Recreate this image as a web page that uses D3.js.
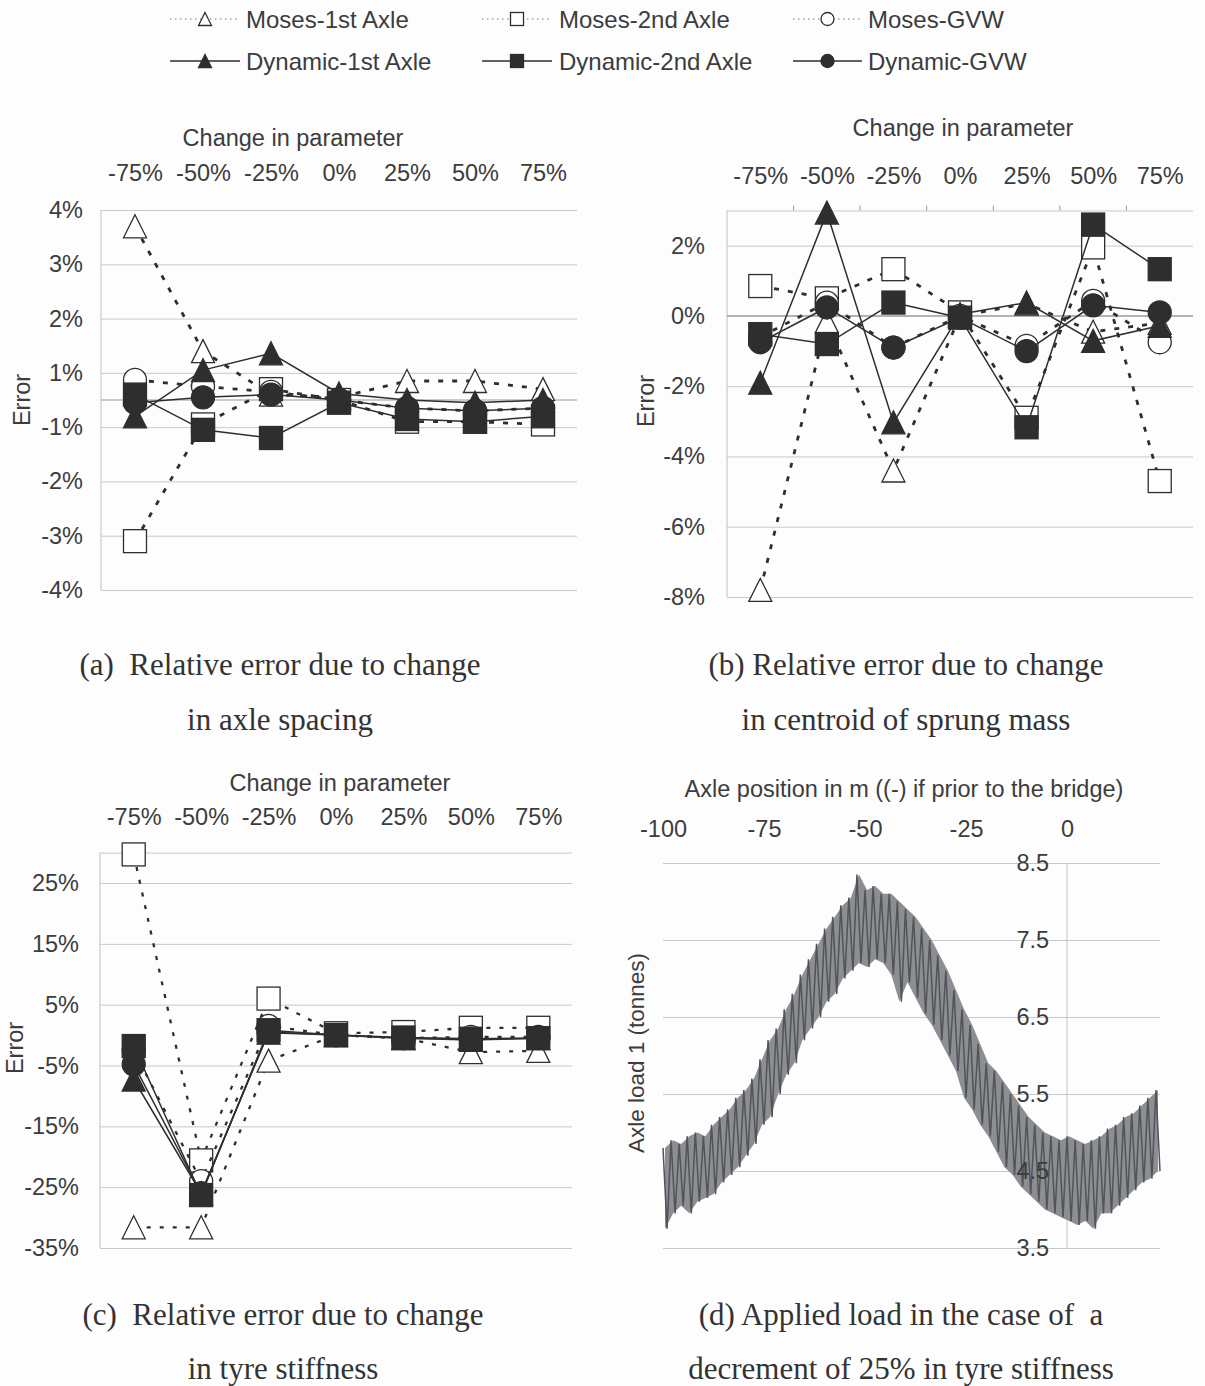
<!DOCTYPE html>
<html><head><meta charset="utf-8">
<script src="https://cdn.jsdelivr.net/npm/d3@7"></script>
<style>body{margin:0;background:#fdfdfd} svg{display:block}</style>
</head><body>
<svg id="c" width="1205" height="1386"></svg>
<script>
// ---------- DATA ----------
const categories = ["-75%","-50%","-25%","0%","25%","50%","75%"];
const seriesNames = ["Moses-1st Axle","Moses-2nd Axle","Moses-GVW","Dynamic-1st Axle","Dynamic-2nd Axle","Dynamic-GVW"];
const seriesShapes = ["triangle","square","circle","triangle","square","circle"];
const seriesFilled = [false,false,false,true,true,true];

// (a) axle spacing, error in %
const aMoses1 = [3.2, 0.9, 0.1, 0.05, 0.35, 0.35, 0.2];
const aMoses2 = [-2.6, -0.45, 0.2, 0.0, -0.4, -0.4, -0.45];
const aMosesGVW = [0.37, 0.25, 0.15, 0.0, -0.15, -0.2, -0.15];
const aDyn1 = [-0.3, 0.55, 0.86, 0.12, 0.0, -0.05, 0.0];
const aDyn2 = [0.1, -0.55, -0.7, -0.05, -0.35, -0.4, -0.3];
const aDynGVW = [-0.05, 0.05, 0.1, 0.0, -0.15, -0.2, -0.15];
const aTickValues = [3.5, 2.5, 1.5, 0.5, -0.5, -1.5, -2.5, -3.5];
const aTickLabels = ["4%","3%","2%","1%","-1%","-2%","-3%","-4%"];

// (b) centroid of sprung mass
const bMoses1 = [-7.8, -0.15, -4.4, 0.0, 0.35, -0.45, -0.2];
const bMoses2 = [0.85, 0.5, 1.33, 0.1, -2.9, 1.95, -4.7];
const bMosesGVW = [-0.6, 0.38, -0.9, 0.0, -0.85, 0.43, -0.75];
const bDyn1 = [-1.9, 2.94, -3.03, 0.05, 0.38, -0.71, -0.28];
const bDyn2 = [-0.52, -0.8, 0.38, -0.05, -3.17, 2.6, 1.33];
const bDynGVW = [-0.75, 0.24, -0.9, -0.05, -1.0, 0.3, 0.1];
const bTickValues = [2, 0, -2, -4, -6, -8];
const bTickLabels = ["2%","0%","-2%","-4%","-6%","-8%"];

// (c) tyre stiffness
const cMoses1 = [-31.6, -31.6, -4.2, 0.0, -0.5, -2.8, -2.6];
const cMoses2 = [29.7, -20.6, 6.0, 0.3, 0.5, 1.2, 1.2];
const cMosesGVW = [-2.5, -24, 1.5, 0.0, -0.5, -0.3, -0.3];
const cDyn1 = [-7.3, -26, 0.4, 0.0, -0.5, -0.8, -0.5];
const cDyn2 = [-1.8, -26.3, 0.8, 0.0, -0.4, -0.6, -0.5];
const cDynGVW = [-4.8, -26, 0.5, 0.0, -0.5, -0.6, -0.5];
const cTickValues = [25, 15, 5, -5, -15, -25, -35];
const cTickLabels = ["25%","15%","5%","-5%","-15%","-25%","-35%"];

// (d) axle load 1 (tonnes) vs axle position (m), one reading per metre (peak, trough, peak, ...)
const loadStart = -100;
const load1 = [
 4.8,3.75,4.9,3.95,4.85,4.05,4.95,3.95,5.0,4.1,
 4.95,4.15,5.1,4.2,5.2,4.35,5.3,4.45,5.45,4.55,
 5.55,4.7,5.7,4.85,5.95,5.1,6.2,5.2,6.35,5.5,
 6.6,5.75,6.8,5.9,7.05,6.2,7.25,6.35,7.45,6.5,
 7.65,6.7,7.8,6.8,7.95,7.0,8.05,7.1,8.35,7.2,
 8.15,7.15,8.2,7.25,8.1,7.2,8.1,7.05,8.0,6.7,
 7.9,6.95,7.8,6.75,7.65,6.55,7.5,6.4,7.3,6.2,
 7.1,6.0,6.85,5.8,6.6,5.45,6.4,5.3,6.15,5.1,
 5.9,4.95,5.8,4.75,5.65,4.55,5.5,4.45,5.35,4.3,
 5.2,4.2,5.1,4.1,5.0,4.0,4.95,3.95,4.9,3.9,
 4.95,3.85,4.9,3.8,4.85,3.85,4.9,3.75,4.95,3.95,
 5.05,3.95,5.1,4.05,5.2,4.15,5.25,4.25,5.35,4.35,
 5.45,4.4,5.55,4.5
];
const dXTicks = [-100, -75, -50, -25, 0];
const dXTickLabels = ["-100", "-75", "-50", "-25", "0"];
const dYTicks = [8.5, 7.5, 6.5, 5.5, 4.5, 3.5];
const dYTickLabels = ["8.5", "7.5", "6.5", "5.5", "4.5", "3.5"];

// ---------- DRAWING ----------
const svg = d3.select("#c");
const SANS = "'Liberation Sans', Arial, sans-serif";
const SERIF = "'Liberation Serif', 'Times New Roman', serif";
const TXT = "#3c3c3c";
const INK = "#2e2e2e";

function marker(g, shape, cx, cy, s, filled) {
  const h = s / 2;
  let el;
  if (shape === "triangle") {
    el = g.append("path").attr("d", `M${cx},${cy - h}L${cx + h},${cy + h}L${cx - h},${cy + h}Z`);
  } else if (shape === "square") {
    el = g.append("rect").attr("x", cx - h).attr("y", cy - h).attr("width", s).attr("height", s);
  } else {
    el = g.append("circle").attr("cx", cx).attr("cy", cy).attr("r", h);
  }
  el.attr("fill", filled ? INK : "#fff").attr("stroke", INK).attr("stroke-width", 1.3);
}

function styleAxisText(sel, size) {
  sel.attr("font-family", null).attr("font-size", null);
  sel.selectAll("text").attr("font-family", SANS).attr("font-size", size).attr("fill", TXT);
  sel.select(".domain").remove();
}

function panel(cfg) {
  const g = svg.append("g");
  const x = d3.scalePoint().domain(categories).range([cfg.x0, cfg.x1]).padding(0.5);
  const y = d3.scaleLinear().domain(cfg.domain).range([cfg.yBot, cfg.yTop]);
  g.append("g").attr("transform", `translate(${cfg.x0},0)`)
    .call(d3.axisLeft(y).tickValues(cfg.gridValues).tickSize(-(cfg.x1 - cfg.x0)).tickFormat(""))
    .call(s => { s.select(".domain").remove(); s.selectAll("line").attr("stroke", "#c9c9c9").attr("stroke-width", 1); });
  g.append("line").attr("x1", cfg.x0).attr("x2", cfg.x0).attr("y1", cfg.yTop).attr("y2", cfg.yBot)
    .attr("stroke", "#c0c0c0");
  if (cfg.zeroLine) {
    g.append("line").attr("x1", cfg.x0).attr("x2", cfg.x1).attr("y1", y(0)).attr("y2", y(0))
      .attr("stroke", "#9a9a9a").attr("stroke-width", 1.2);
  }
  if (cfg.topTicks) {
    const step = x.step();
    const bounds = categories.slice(1).map(c => x(c) - step / 2);
    g.selectAll(".tt").data(bounds).join("line")
      .attr("x1", d => d).attr("x2", d => d).attr("y1", cfg.yTop).attr("y2", cfg.yTop - 5)
      .attr("stroke", "#9a9a9a");
  }
  g.append("g").attr("transform", `translate(${cfg.labelX},0)`)
    .call(d3.axisLeft(y).tickValues(cfg.tickValues).tickFormat((d, i) => cfg.tickLabels[i]).tickSize(0).tickPadding(0))
    .call(s => styleAxisText(s, 23.5));
  g.append("g").attr("transform", `translate(0,${cfg.catY})`)
    .call(d3.axisTop(x).tickSize(0).tickPadding(0))
    .call(s => styleAxisText(s, 23.5));
  g.append("text").attr("x", cfg.titleX).attr("y", cfg.titleY).attr("text-anchor", "middle")
    .attr("font-family", SANS).attr("font-size", 23.5).attr("fill", TXT).text("Change in parameter");
  g.append("text").attr("transform", `translate(${cfg.errX},${cfg.errY}) rotate(-90)`)
    .attr("text-anchor", "middle").attr("dy", "0.35em")
    .attr("font-family", SANS).attr("font-size", 23.5).attr("fill", TXT).text("Error");
  const line = d3.line().x((d, j) => x(categories[j])).y(d => y(d));
  cfg.series.forEach((vals, i) => {
    const sg = g.append("g");
    const p = sg.append("path").attr("d", line(vals)).attr("fill", "none").attr("stroke", INK);
    if (seriesFilled[i]) p.attr("stroke-width", 1.5);
    else p.attr("stroke-width", cfg.dashWidth).attr("stroke-dasharray", cfg.dash);
    vals.forEach((v, j) => marker(sg, seriesShapes[i], x(categories[j]), y(v), cfg.markerSize, seriesFilled[i]));
  });
}

panel({
  x0: 101, x1: 577, yTop: 210, yBot: 590, domain: [-3.5, 3.5],
  gridValues: aTickValues, tickValues: aTickValues, tickLabels: aTickLabels,
  labelX: 83, catY: 181, titleX: 293, titleY: 146, errX: 22, errY: 400,
  zeroLine: true, topTicks: false, markerSize: 23, dash: "5,9", dashWidth: 2.8,
  series: [aMoses1, aMoses2, aMosesGVW, aDyn1, aDyn2, aDynGVW]
});
panel({
  x0: 727, x1: 1193, yTop: 210.5, yBot: 597, domain: [-8, 3],
  gridValues: [3, 2, 0, -2, -4, -6, -8], tickValues: bTickValues, tickLabels: bTickLabels,
  labelX: 705, catY: 184, titleX: 963, titleY: 136, errX: 646, errY: 401,
  zeroLine: true, topTicks: true, markerSize: 23, dash: "5,9", dashWidth: 2.8,
  series: [bMoses1, bMoses2, bMosesGVW, bDyn1, bDyn2, bDynGVW]
});
panel({
  x0: 100, x1: 572, yTop: 852.6, yBot: 1248, domain: [-35, 30],
  gridValues: [30, 25, 15, 5, -5, -15, -25, -35], tickValues: cTickValues, tickLabels: cTickLabels,
  labelX: 79, catY: 825, titleX: 340, titleY: 791, errX: 15, errY: 1048,
  zeroLine: false, topTicks: false, markerSize: 23, dash: "4,9", dashWidth: 2.3,
  series: [cMoses1, cMoses2, cMosesGVW, cDyn1, cDyn2, cDynGVW]
});

// ---- panel (d)
(function () {
  const g = svg.append("g");
  const x = d3.scaleLinear().domain([-100, 23]).range([663, 1160]);
  const y = d3.scaleLinear().domain([3.5, 8.5]).range([1248, 863]);
  g.append("g").attr("transform", `translate(${x(-100)},0)`)
    .call(d3.axisLeft(y).tickValues(dYTicks).tickSize(-(x(23) - x(-100))).tickFormat(""))
    .call(s => { s.select(".domain").remove(); s.selectAll("line").attr("stroke", "#c9c9c9"); });
  g.append("line").attr("x1", x(0)).attr("x2", x(0)).attr("y1", y(8.5)).attr("y2", y(3.5)).attr("stroke", "#c4c4c4");
  const pts = load1.map((v, i) => [loadStart + i, v]);
  // band between each peak and the following trough
  const pairs = d3.range(0, load1.length - 1, 2).map(i => ({ p: loadStart + i, hi: load1[i], lo: load1[i + 1] }));
  g.append("path")
    .attr("d", d3.area().x(d => x(d.p + 0.5)).y0(d => y(d.lo)).y1(d => y(d.hi))(pairs))
    .attr("fill", "#8c8e92");
  g.append("path").attr("d", d3.line().x(d => x(d[0])).y(d => y(d[1]))(pts))
    .attr("fill", "none").attr("stroke", "#515459").attr("stroke-width", 1.5).attr("stroke-linejoin", "miter")
    .attr("stroke-miterlimit", 3);
  g.append("g").attr("transform", `translate(${x(0) - 18},0)`)
    .call(d3.axisLeft(y).tickValues(dYTicks).tickFormat((d, i) => dYTickLabels[i]).tickSize(0).tickPadding(0))
    .call(s => styleAxisText(s, 23.5));
  g.append("g").attr("transform", `translate(0,837)`)
    .call(d3.axisTop(x).tickValues(dXTicks).tickFormat((d, i) => dXTickLabels[i]).tickSize(0).tickPadding(0))
    .call(s => styleAxisText(s, 23.5));
  g.append("text").attr("x", 904).attr("y", 797).attr("text-anchor", "middle")
    .attr("font-family", SANS).attr("font-size", 23.5).attr("fill", TXT)
    .text("Axle position in m ((-) if prior to the bridge)");
  g.append("text").attr("transform", `translate(636,1053) rotate(-90)`).attr("text-anchor", "middle").attr("dy", "0.35em")
    .attr("font-family", SANS).attr("font-size", 22.5).attr("fill", TXT).text("Axle load 1  (tonnes)");
})();

// ---- legend
const legCols = [[170, 240, 246], [482, 552, 559], [793, 862, 868]];
seriesNames.forEach((name, i) => {
  const col = legCols[i % 3], rowY = i < 3 ? 19 : 61;
  const g = svg.append("g");
  const ln = g.append("line").attr("x1", col[0]).attr("x2", col[1]).attr("y1", rowY).attr("y2", rowY).attr("stroke", INK);
  if (seriesFilled[i]) ln.attr("stroke-width", 1.5);
  else ln.attr("stroke-width", 1).attr("stroke-dasharray", "1.5,3.5").attr("stroke", "#777");
  marker(g, seriesShapes[i], (col[0] + col[1]) / 2, rowY, 13, seriesFilled[i]);
  g.append("text").attr("x", col[2]).attr("y", rowY + 8.5).attr("font-family", SANS).attr("font-size", 24)
    .attr("fill", TXT).text(name);
});

// ---- captions
const captions = [
  [280, 675, "(a)  Relative error due to change"], [280, 730, "in axle spacing"],
  [906, 675, "(b) Relative error due to change"], [906, 730, "in centroid of sprung mass"],
  [283, 1325, "(c)  Relative error due to change"], [283, 1379, "in tyre stiffness"],
  [901, 1325, "(d) Applied load in the case of  a"], [901, 1379, "decrement of 25% in tyre stiffness"]
];
svg.selectAll(".cap").data(captions).join("text")
  .attr("x", d => d[0]).attr("y", d => d[1]).attr("text-anchor", "middle")
  .attr("font-family", SERIF).attr("font-size", 31).attr("fill", "#333")
  .attr("xml:space", "preserve").style("white-space", "pre").text(d => d[2]);
</script>
</body></html>
